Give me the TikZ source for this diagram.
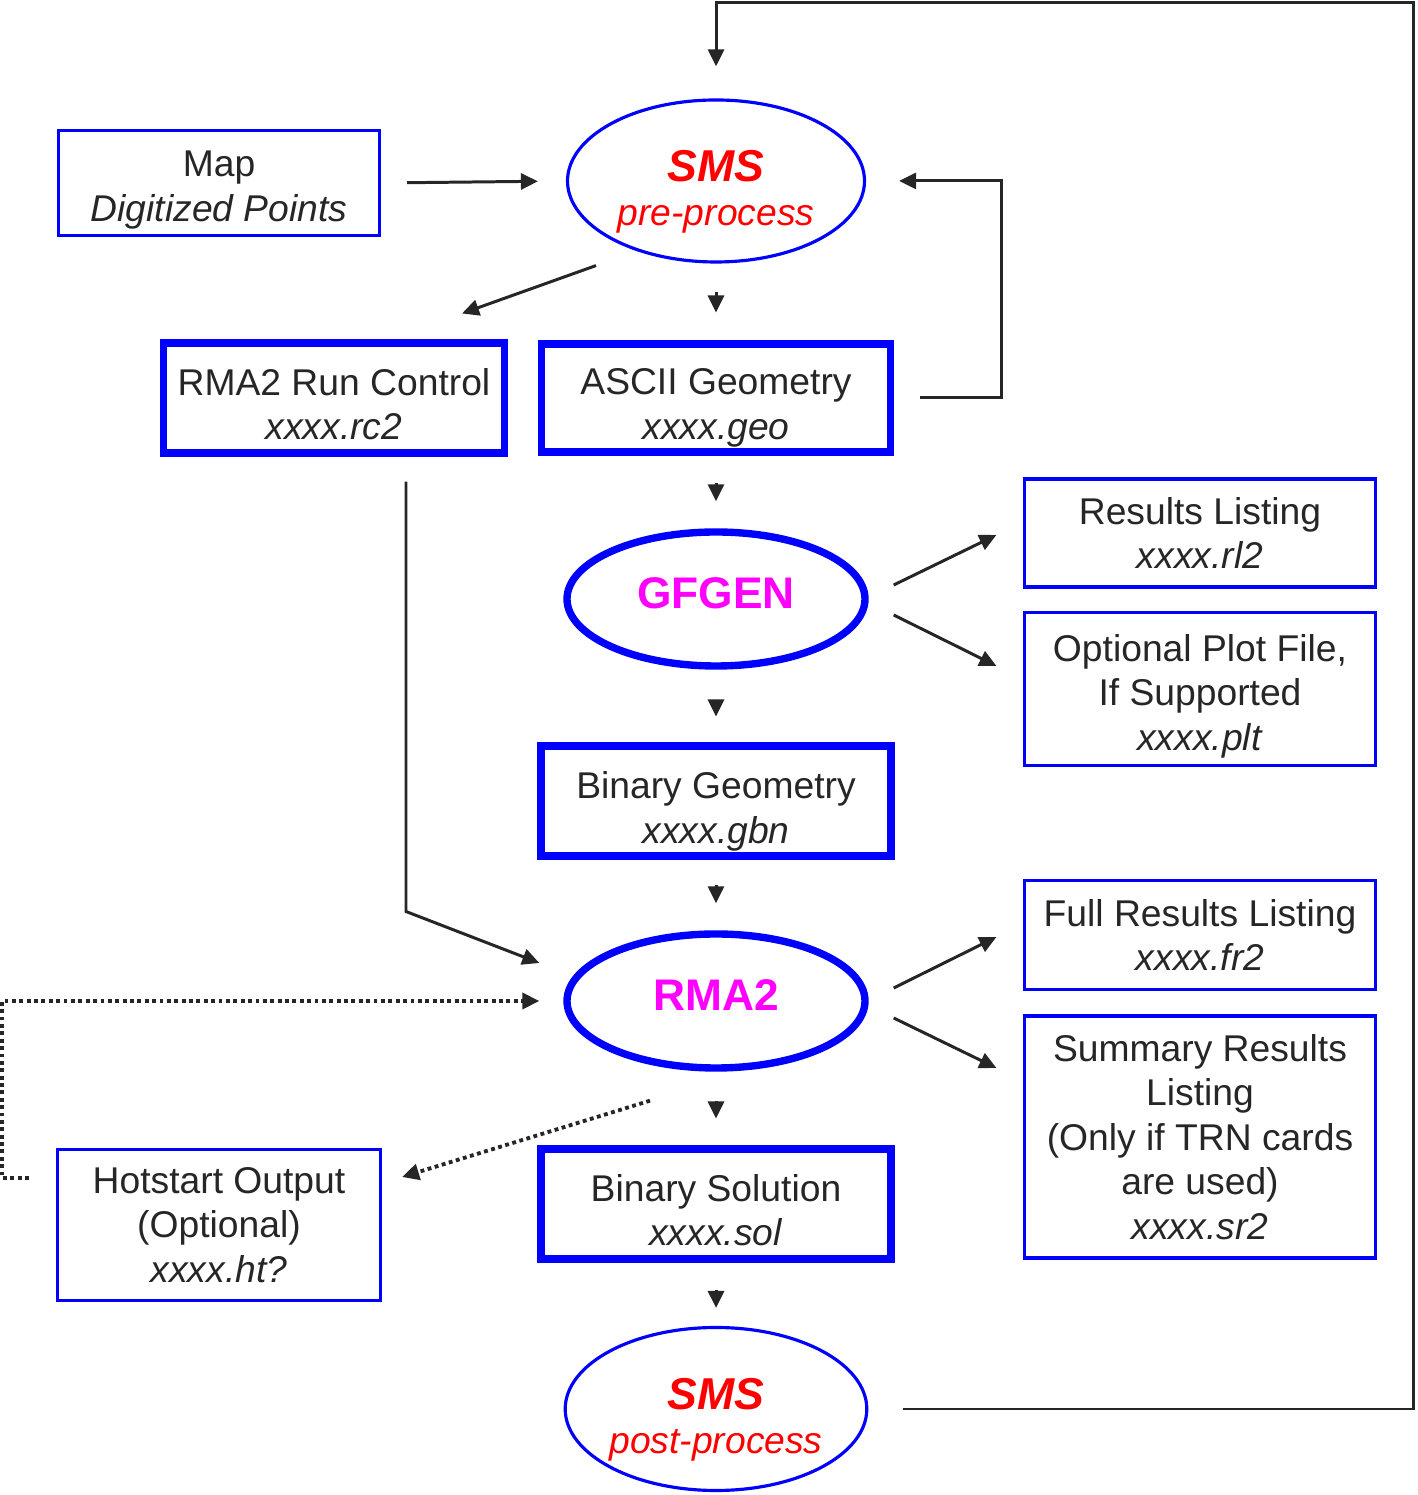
\documentclass[tikz,border=0pt]{standalone}
\usepackage{fontspec}
\setmainfont{Liberation Sans}
\usepackage{xcolor}
\definecolor{frame}{HTML}{0000FF}
\definecolor{smsred}{HTML}{FF0000}
\definecolor{exe}{HTML}{FF00FF}
\definecolor{ink}{HTML}{262626}
\usepackage{tikz}
\usetikzlibrary{shapes.geometric, arrows.meta}
\newcommand{\lift}[1]{\rule{0pt}{#1}}
\newcommand{\smstitle}{{\fontsize{12.7}{15}\selectfont\bfseries\itshape\lift{15pt}SMS}}

\begin{document}
\begin{tikzpicture}[
  every node/.style={font=\fontsize{10.6}{12.7}\selectfont, text=ink},
  filebox/.style={rectangle, draw=frame, line width=0.9pt, minimum width=3.51cm,
                  align=center, inner sep=0pt},
  databox/.style={rectangle, draw=frame, line width=2pt, minimum width=3.50cm,
                  minimum height=1.10cm, align=center, inner sep=0pt},
  smsoval/.style={ellipse, draw=frame, line width=0.9pt, minimum width=2.97cm,
                  minimum height=1.62cm, inner sep=0pt, align=center, text=smsred},
  progoval/.style={ellipse, draw=frame, line width=2.1pt, minimum width=2.98cm,
                   minimum height=1.34cm, inner sep=0pt, text=exe, text depth=3.4pt,
                   font=\fontsize{12.6}{15}\selectfont\bfseries},
  flow/.style={-{Triangle[length=0.17cm, width=0.16cm]}, line width=0.85pt, black!85},
  dots/.style={flow, line width=1.1pt, densely dotted}
]
  \useasboundingbox (0,0) rectangle (14.18,14.95);

  \node[smsoval] (pre) at (7.16,13.14) {\smstitle\\{\itshape pre-process}};
  \node[filebox, minimum width=3.21cm, minimum height=1.05cm] (map) at (2.19,13.12)
    {\lift{11.2pt}Map\\\textit{Digitized Points}};
  \node[databox, minimum width=3.41cm] (rc) at (3.34,10.97)
    {\lift{11.2pt}RMA2 Run Control\\\textit{xxxx.rc2}};
  \node[databox, minimum width=3.49cm, minimum height=1.08cm] (geo) at (7.16,10.97)
    {\lift{12.9pt}ASCII Geometry\\\textit{xxxx.geo}};
  \node[progoval] (gfgen) at (7.16,8.96) {GFGEN};
  \node[filebox, minimum height=1.08cm] (rl2) at (12.00,9.62) {Results Listing\\\textit{xxxx.rl2}};
  \node[filebox, minimum height=1.53cm] (plt) at (12.00,8.06)
    {\lift{11.8pt}Optional Plot File,\\If Supported\\\textit{xxxx.plt}};
  \node[databox] (gbn) at (7.16,6.94) {\lift{13.5pt}Binary Geometry\\\textit{xxxx.gbn}};
  \node[progoval] (rma) at (7.16,4.94) {RMA2};
  \node[filebox, minimum height=1.09cm] (fr2) at (12.00,5.60) {Full Results Listing\\\textit{xxxx.fr2}};
  \node[filebox, minimum height=2.42cm] (sr2) at (12.00,3.58)
    {Summary Results\\Listing\\(Only if TRN cards\\are used)\\\textit{xxxx.sr2}};
  \node[filebox, minimum width=3.23cm, minimum height=1.51cm] (hot) at (2.19,2.70)
    {Hotstart Output\\(Optional)\\\textit{xxxx.ht?}};
  \node[databox] (sol) at (7.16,2.91) {\lift{11.2pt}Binary Solution\\\textit{xxxx.sol}};
  \node[smsoval, minimum height=1.63cm] (post) at (7.16,0.86) {\smstitle\\{\itshape post-process}};
  \coordinate (corner) at (14.13,14.92);

  \draw[flow, shorten <=0.26cm, shorten >=0.28cm] (map.east) -- (pre.west);
  \draw[flow] ([shift={(-1.20,-0.02)}]pre.south) -- ([shift={(1.28,0.26)}]rc.north);
  \draw[flow, shorten <=0.28cm, shorten >=0.28cm] (pre.south) -- (geo.north);
  \draw[flow, shorten <=0.26cm, shorten >=0.33cm] (geo.east) -- ++(1.07,0) |- (pre.east);
  \draw[flow, shorten <=0.27cm, shorten >=0.27cm] (geo.south) -- (gfgen.north);
  \draw[flow] ([shift={(0.25,0.14)}]gfgen.east) -- ([shift={(-0.265,-0.02)}]rl2.west);
  \draw[flow] ([shift={(0.25,-0.16)}]gfgen.east) -- ([shift={(-0.265,0.23)}]plt.west);
  \draw[flow, shorten <=0.31cm, shorten >=0.26cm] (gfgen.south) -- (gbn.north);
  \draw[flow, shorten <=0.25cm, shorten >=0.27cm] (gbn.south) -- (rma.north);
  \draw[flow, shorten <=0.25cm] ([xshift=0.72cm]rc.south) -- ++(0,-4.55)
    -- ([shift={(-0.24,0.38)}]rma.west);
  \draw[flow] ([shift={(0.25,0.13)}]rma.east) -- ([shift={(-0.265,-0.02)}]fr2.west);
  \draw[flow] ([shift={(0.25,-0.17)}]rma.east) -- ([shift={(-0.265,0.69)}]sr2.west);
  \draw[dots, shorten >=0.24cm] ([shift={(-0.27,0.47)}]hot.west) -- ++(-0.27,0) |- (rma.west);
  \draw[dots] ([shift={(-0.66,-0.29)}]rma.south) -- ([shift={(0.20,0.48)}]hot.east);
  \draw[flow, shorten <=0.29cm, shorten >=0.27cm] (rma.south) -- (sol.north);
  \draw[flow, shorten <=0.27cm, shorten >=0.18cm] (sol.south) -- (post.north);
  \draw[flow, shorten <=0.35cm, shorten >=0.32cm] (post.east) -| (corner) -| (pre.north);
\end{tikzpicture}
\end{document}
